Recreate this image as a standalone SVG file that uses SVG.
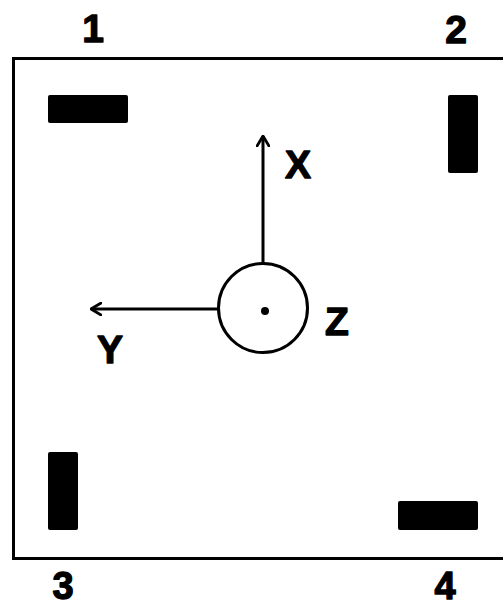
<svg xmlns="http://www.w3.org/2000/svg" width="503" height="607" viewBox="0 0 503 607">
<defs>
<style>
.lbl{font-family:"Liberation Sans",Arial,sans-serif;font-weight:bold;font-size:39px;fill:#000;stroke:#000;stroke-width:1.3;stroke-linejoin:round;text-anchor:middle}
.pad{fill:#000}
.ln{stroke:#000;stroke-width:3;fill:none}
</style>
<marker id="arr" viewBox="0 0 12 14" refX="11" refY="7" markerWidth="12" markerHeight="14" markerUnits="userSpaceOnUse" orient="auto">
<path d="M1,1 L11,7 L1,13" fill="none" stroke="#000" stroke-width="2.8" stroke-linecap="round" stroke-linejoin="round"/>
</marker>
</defs>
<rect width="503" height="607" fill="#fff"/>
<g id="frame"><path class="ln" d="M510,58.5 H13.5 V558.5 H510"/></g>
<g id="pad1"><rect class="pad" x="48" y="95" width="80" height="28" rx="2"/><text class="lbl" x="93" y="42">1</text></g>
<g id="pad2"><rect class="pad" x="448" y="95" width="30" height="78" rx="2"/><text class="lbl" x="456" y="43">2</text></g>
<g id="pad3"><rect class="pad" x="48" y="452" width="30" height="78" rx="2"/><text class="lbl" x="63" y="598.5" style="font-size:38px">3</text></g>
<g id="pad4"><rect class="pad" x="398" y="501" width="80" height="29" rx="2"/><text class="lbl" x="445" y="598.5" style="font-size:38px">4</text></g>
<g id="origin">
<circle class="ln" cx="263" cy="308" r="44.5"/>
<circle cx="265" cy="311" r="4" fill="#000"/>
<text class="lbl" x="337" y="335">Z</text>
</g>
<g id="connectors">
<line class="ln" x1="263" y1="263" x2="263" y2="136" marker-end="url(#arr)"/>
<line class="ln" x1="218" y1="309" x2="91" y2="309" marker-end="url(#arr)"/>
</g>
<g id="axis-labels">
<text class="lbl" x="298" y="178">X</text>
<text class="lbl" x="110" y="363">Y</text>
</g>
</svg>
